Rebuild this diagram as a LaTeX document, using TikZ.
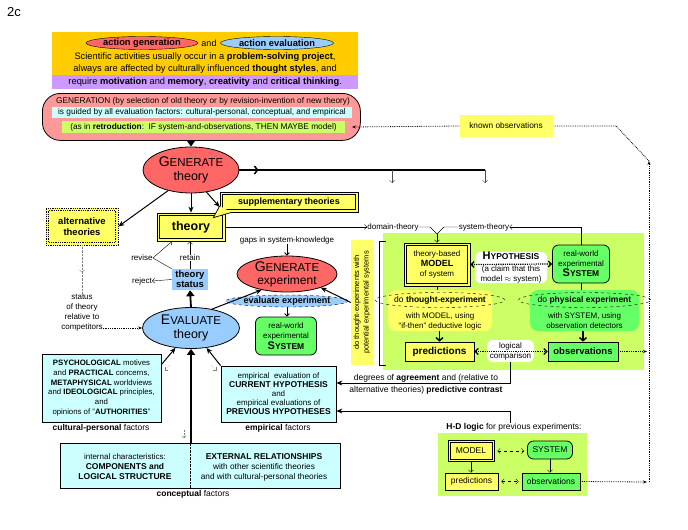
\documentclass[tikz,border=0pt]{standalone}
\usepackage{fontspec}
\setmainfont{Liberation Sans}
\usetikzlibrary{shapes.geometric,arrows.meta,decorations.markings}
\definecolor{hdorange}{HTML}{FFCC00}
\definecolor{hdpurple}{HTML}{CC99FF}
\definecolor{hdpink}{HTML}{FF9999}
\definecolor{hdcyan}{HTML}{CCFFFF}
\definecolor{hdlime}{HTML}{CCFF66}
\definecolor{hdred}{HTML}{FF6666}
\definecolor{hdblue}{HTML}{99CCFF}
\definecolor{hdyellow}{HTML}{FFFF66}
\definecolor{hdgreen}{HTML}{66FF66}
\newcommand{\capsword}[2]{{\fontsize{14pt}{14}\selectfont #1}{\fontsize{11.5pt}{14}\selectfont #2}}
\newcommand{\smallcapsword}[2]{{\fontsize{11pt}{11}\selectfont #1}{\fontsize{8.5pt}{11}\selectfont #2}}
\newcommand{\innerframe}[2]{\draw[line width=0.7pt] ([shift={(#2,#2)}]#1.north west) rectangle ([shift={(-#2,-#2)}]#1.south east);}
\tikzset{
  font={\fontsize{8pt}{10}\selectfont}}
\tikzset{
  thinarrow/.style={-{Straight Barb[length=2.5pt,width=5pt]}},
  medarrow/.style={line width=1pt,-{Stealth[length=6pt,width=5pt]}},
  bigarrow/.style={line width=1.8pt,-{Triangle[length=6pt,width=8pt]}},
  hyparrow/.style={line width=1.2pt,densely dotted,{Straight Barb[length=3pt,width=6pt]}-{Straight Barb[length=3pt,width=6pt]}},
  dasharrow/.style={dashed,{Straight Barb[length=2.5pt,width=5pt]}-{Straight Barb[length=2.5pt,width=5pt]}},
  obsarrow/.style={densely dotted,line width=0.8pt,-{Stealth[length=4pt]}},
  feedarrow/.style={densely dotted,gray,-{Straight Barb[length=2pt,width=4pt]}},
  yellowbox/.style={draw,line width=0.7pt,fill=hdyellow},
  plainbox/.style={draw,line width=0.8pt},
  greenbox/.style={draw,line width=0.8pt,fill=hdgreen,rounded corners=6},
  bigellipse/.style={ellipse,draw,line width=0.8pt,align=center,font={\fontsize{12.5pt}{14}\selectfont}}
}
\begin{document}
\begin{tikzpicture}[x=1pt,y=-1pt]
\tikzstyle{every node}+=[inner sep=0pt]
\useasboundingbox (0,0) rectangle (688,530);
\node (title) at (14,12) {\fontsize{13pt}{14}\selectfont 2c};

% banner at the top
\node[fill=hdorange, minimum width=306, minimum height=43, anchor=north west] (banner) at (52,32) {};
\node[fill=hdpurple, minimum width=306, minimum height=14, anchor=north west, font={\fontsize{9.3pt}{10}\selectfont}] (motiv) at (52,75) {require \textbf{motivation} and \textbf{memory}, \textbf{creativity} and \textbf{critical thinking}.};
\node[ellipse, draw, fill=hdred, minimum width=112, minimum height=13, font={\fontsize{9.3pt}{10}\selectfont}] (actgen) at (142,43) {\textbf{action generation}};
\node[font={\fontsize{9pt}{10}\selectfont}] (andword) at (209,43) {and};
\node[ellipse, draw, fill=hdblue, minimum width=113, minimum height=13, font={\fontsize{9.3pt}{10}\selectfont}] (acteval) at (277,43) {\textbf{action evaluation}};
\node[font={\fontsize{9.3pt}{10}\selectfont}] (project) at (205,57) {Scientific activities usually occur in a \textbf{problem-solving project},};
\node[font={\fontsize{9.3pt}{10}\selectfont}] (styles) at (205,69) {always are affected by culturally influenced \textbf{thought styles}, and};

% generation box
\node[plainbox, fill=hdpink, rounded corners=18, minimum width=318, minimum height=47, anchor=north west] (gen) at (42,93) {};
\node[font={\fontsize{8.3pt}{9}\selectfont}] (genline) at (203,101) {GENERATION (by selection of old theory or by revision-invention of new theory)};
\node[fill=hdcyan, minimum width=300, minimum height=11, font={\fontsize{8.3pt}{9}\selectfont}] (guided) at (202,112.5) {is guided by all evaluation factors: cultural-personal, conceptual, and empirical};
\node[fill=hdlime, minimum width=283, minimum height=12, font={\fontsize{8.3pt}{9}\selectfont}] (retro) at (203.5,127) {(as in \textbf{retroduction}:\ \ IF system-and-observations, THEN MAYBE model)};
\coordinate (knownin) at (352,127);

% theory generation
\node[bigellipse, fill=hdred, minimum width=96, minimum height=46] (gentheory) at (191,170) {\capsword{G}{ENERATE}\\theory};
\draw[bigarrow] (gentheory.north |- gen.south) -- (gentheory.north);
\coordinate (stubA) at (392,170);
\coordinate (stubB) at (485,170);
\draw[line width=1.5pt] (gentheory.east) -- (stubB);
\draw[line width=1.5pt, -{Straight Barb[length=3pt,width=8pt]}] (gentheory.east) -- ++(19,0);
\draw[thinarrow, gray!60!black] (stubA) -- ++(0,13);
\draw[thinarrow, gray!60!black] (stubB) -- ++(0,13);

\node[yellowbox, minimum width=68, minimum height=28, font={\fontsize{12.5pt}{14}\selectfont}] (theory) at (191,227) {\textbf{theory}};
\innerframe{theory}{3}
\node[yellowbox, minimum width=138, minimum height=20, font={\fontsize{9pt}{10}\selectfont}] (supp) at (289,202) {\textbf{supplementary theories}};
\innerframe{supp}{3}
\draw[line width=0.7pt, fill=hdyellow] ([yshift=-4]supp.west) -- ([shift={(-12,5)}]theory.north east) -- ([xshift=12]supp.south west);
\draw[medarrow] (gentheory.south) -- (theory.north);
\draw[medarrow] (gentheory.-55) -- ([yshift=-5]supp.west);

\node[draw, densely dotted, line width=0.8pt, fill=hdyellow, minimum width=72, minimum height=37, align=center, font={\fontsize{9.5pt}{11}\selectfont}] (alt) at (82,226.5) {\textbf{alternative}\\\textbf{theories}};
\draw[densely dotted, line width=0.8pt] ([shift={(3,3)}]alt.north west) rectangle ([shift={(-3,-3)}]alt.south east);
\draw[medarrow] (gentheory.222) -- (alt.east);

\node[align=center] (statustext) at (82,313) {status\\of theory\\relative to\\competitors};
\draw[densely dotted, gray, postaction={decorate}, decoration={markings, mark=at position 0.55 with {\arrow{Straight Barb[length=2pt,width=5pt]}}}] (alt.south) -- (statustext.north);

% theory status
\node[fill=hdblue, minimum width=36, minimum height=21, align=center, font={\fontsize{9.5pt}{10}\selectfont}] (status) at (190,279.5) {\textbf{theory}\\\textbf{status}};
\node (retain) at (190,258) {retain};
\node (revise) at (142,258) {revise};
\node (reject) at (142,281) {reject};
\draw (status.north) -- (retain.south);
\draw[thinarrow] (retain.north) -- (retain.north |- theory.south);
\draw (status.north west) -- (revise.east);
\draw[thinarrow] (revise.east) -- ([xshift=-19]theory.south);
\draw[thinarrow] (status.west) -- (reject.east);

\node[bigellipse, fill=hdblue, minimum width=97, minimum height=41] (evaltheory) at (191,328) {\capsword{E}{VALUATE}\\theory};
\draw[bigarrow] (evaltheory.north) -- (status.south);
\draw[obsarrow] (statustext.east |- evaltheory.west) -- (evaltheory.west);

% experiment generation
\node (gaps) at (287,240) {gaps in system-knowledge};
\node[bigellipse, fill=hdred, minimum width=100, minimum height=36, font={\fontsize{12pt}{13}\selectfont}] (genexp) at (287,274) {\capsword{G}{ENERATE}\\experiment};
\node[ellipse, draw, dashed, fill=hdblue, minimum width=110, minimum height=12, font={\fontsize{9pt}{10}\selectfont}] (evalexp) at (287,301) {\textbf{evaluate experiment}};
\node[greenbox, minimum width=61, minimum height=38, align=center, font={\fontsize{8pt}{10.5}\selectfont}] (expsys) at (286,336) {real-world\\experimental\\\textbf{\smallcapsword{S}{YSTEM}}};
\draw[thinarrow, line width=0.8pt] (gaps.south) -- (genexp.north);
\draw[thinarrow, line width=0.8pt] (evalexp.south) -- (evalexp.south |- expsys.north);
\draw[medarrow] (evaltheory.42) -- (genexp.212);

% hypothetico-deductive area
\node[fill=hdlime, minimum width=261, minimum height=137, anchor=north west] (hdarea) at (383,233) {};
\node[fill=hdyellow, rotate=90, minimum width=125, minimum height=22, align=center, font={\fontsize{7.5pt}{9.5}\selectfont}] (thought) at (362,302.5) {do thought-experiments with\\potential experimental systems};
\draw (386,241) -- (379,241) -- (379,365) -- (386,365);
\draw[medarrow] (thought.north) -- (genexp.-22);

\node (domain) at (393,227) {domain-theory};
\node (systh) at (484,227) {system-theory};
\draw[thinarrow] (theory.east) -- (theory.east -| domain.west);
\node[yellowbox, minimum width=66, minimum height=43, align=center] (model) at (437,264.5) {theory-based\\{\fontsize{9pt}{10}\selectfont\textbf{MODEL}}\\of system};
\innerframe{model}{3}
\node[greenbox, minimum width=57, minimum height=38, align=center] (rwsys) at (581,264) {real-world\\experimental\\\textbf{\smallcapsword{S}{YSTEM}}};
\coordinate (merge) at (437,234);
\draw (domain.east) -- (430,227) -- (merge);
\draw (systh.west) -- (444,227) -- (merge);
\draw[thinarrow] (merge) -- (model.north);
\draw[thinarrow] (rwsys.north) |- (systh.east);

\node[fill=white, rounded corners=6, minimum width=72, minimum height=31, align=center] (hypo) at (511,267.5) {\textbf{\smallcapsword{H}{YPOTHESIS}}\\[2pt](a claim that this\\model $\approx$ system)};
\draw[hyparrow] (model.east) -- (rwsys.west);

\node[fill=hdyellow, rounded corners=8, minimum width=104, minimum height=41] (thexp) at (440,310.5) {};
\node[ellipse, draw, dashed, minimum width=103, minimum height=15, font={\fontsize{8.5pt}{10}\selectfont}] (dothexp) at (440,300) {do \textbf{thought-experiment}};
\node[align=center] (thexptext) at (440,321) {with MODEL, using\\“if-then” deductive logic};
\node[fill=hdgreen, rounded corners=8, minimum width=109, minimum height=41] (phexp) at (584.5,310.5) {};
\node[ellipse, draw, dashed, minimum width=108, minimum height=15, font={\fontsize{8.5pt}{10}\selectfont}] (dophexp) at (584.5,300) {do \textbf{physical experiment}};
\node[align=center] (phexptext) at (584.5,321) {with SYSTEM, using\\observation detectors};
\draw (model.south) -- (model.south |- thexp.north);
\draw (rwsys.south) -- (rwsys.south |- phexp.north);

\node[plainbox, fill=hdyellow, minimum width=69, minimum height=19, font={\fontsize{10pt}{11}\selectfont}] (pred) at (439.5,351.5) {\textbf{predictions}};
\node[plainbox, fill=hdgreen, minimum width=70, minimum height=19, font={\fontsize{9.5pt}{11}\selectfont}] (obs) at (583,351.5) {\textbf{observations}};
\draw[line width=1.5pt, -{Straight Barb[length=3pt,width=7pt]}] (thexp.south -| pred.north) -- (pred.north);
\draw[line width=1.5pt, -{Straight Barb[length=3pt,width=7pt]}] (phexp.south -| obs.north) -- (obs.north);
\node[fill=white, rounded corners=6, minimum width=47, minimum height=22, align=center] (logcomp) at (510.5,351) {logical\\comparison};
\draw[hyparrow] (pred.east) -- (obs.west);

% empirical evaluation
\node[plainbox, fill=hdcyan, minimum width=115, minimum height=56, align=center, font={\fontsize{8pt}{9}\selectfont}] (emp) at (278.5,394) {empirical\ \ evaluation of\\{\fontsize{8.5pt}{9}\selectfont\textbf{CURRENT HYPOTHESIS}}\\and\\empirical evaluations of\\{\fontsize{8.5pt}{9}\selectfont\textbf{PREVIOUS HYPOTHESES}}};
\node[font={\fontsize{8.5pt}{10}\selectfont}] (emplab) at (278,428) {\textbf{empirical} factors};
\coordinate (agreey) at (0,383);
\coordinate (prevy) at (0,411);
\draw[medarrow, line width=0.8pt] (logcomp.south) |- (emp.east |- agreey);
\node[font={\fontsize{8.5pt}{10}\selectfont}] (agreetext) at (426,378) {degrees of \textbf{agreement} and (relative to};
\node[font={\fontsize{8.5pt}{10}\selectfont}] (contrast) at (426,390) {alternative theories) \textbf{predictive contrast}};

% H-D logic for earlier experiments
\node[fill=hdlime, minimum width=149, minimum height=63, anchor=north west] (hdback) at (438,433) {};
\node[font={\fontsize{8.5pt}{10}\selectfont}] (hdtitle) at (514,427) {\textbf{H-D logic} for previous experiments:};
\draw[medarrow, line width=0.8pt] (hdtitle.north -| logcomp.south) |- (emp.east |- prevy);
\node[yellowbox, minimum width=46, minimum height=21, font={\fontsize{8.5pt}{10}\selectfont}] (hdmodel) at (471,451) {MODEL};
\innerframe{hdmodel}{2.5}
\node[greenbox, minimum width=45, minimum height=18, font={\fontsize{8.5pt}{10}\selectfont}] (hdsys) at (550,450) {SYSTEM};
\node[plainbox, fill=hdyellow, minimum width=53, minimum height=17, font={\fontsize{8.5pt}{10}\selectfont}] (hdpred) at (471.5,481.5) {predictions};
\node[plainbox, fill=hdgreen, minimum width=58, minimum height=17, font={\fontsize{8.5pt}{10}\selectfont}] (hdobs) at (551,481.5) {observations};
\draw[dasharrow] ([xshift=3]hdmodel.east) -- ([xshift=-3]hdsys.west |- hdmodel.east);
\draw[dasharrow] ([xshift=3]hdpred.east) -- ([xshift=-3]hdobs.west);
\draw[thinarrow] (hdmodel.south) -- (hdpred.north -| hdmodel.south);
\draw[thinarrow] (hdsys.south) -- (hdobs.north -| hdsys.south);

% observations loop back
\node[fill=hdyellow, minimum width=93, minimum height=22, font={\fontsize{8.3pt}{10}\selectfont}] (knownobs) at (506,126) {known observations};
\coordinate (obsright) at (647,351.5);
\coordinate (vtop) at (649,161);
\coordinate (vbot) at (649,482);
\coordinate (bend) at (616,126);
\draw[obsarrow] (obs.east) -- (obsright);
\draw[obsarrow] (hdobs.east) -- (vbot -| obsright);
\draw[obsarrow] (vbot) -- (vtop);
\draw[densely dotted, line width=0.8pt] (vtop) -- (bend) -- (knownobs.east);
\draw[obsarrow] (knownobs.west) -- (knownin);

% factors
\node[plainbox, fill=hdcyan, minimum width=119, minimum height=68, align=center, font={\fontsize{7.8pt}{9.8}\selectfont}] (cult) at (101.5,388) {\textbf{PSYCHOLOGICAL} motives\\and \textbf{PRACTICAL} concerns,\\\textbf{METAPHYSICAL} worldviews\\and \textbf{IDEOLOGICAL} principles,\\and\\opinions of "\textbf{AUTHORITIES}"};
\node[font={\fontsize{8.5pt}{10}\selectfont}] (cultlab) at (101,428) {\textbf{cultural-personal} factors};
\draw[medarrow] ([yshift=-11]cult.north east) -- (evaltheory.232);
\draw[medarrow] (emp.north west) -- (evaltheory.308);

\node[plainbox, fill=hdcyan, minimum width=280, minimum height=45] (concept) at (200,465.5) {};
\draw[densely dotted] ([xshift=-10]concept.north) -- ([xshift=-10]concept.south);
\node[align=center, font={\fontsize{8pt}{10}\selectfont}] (intern) at (125,467) {internal characteristics:\\{\fontsize{8.5pt}{10}\selectfont\textbf{COMPONENTS and}}\\{\fontsize{8.5pt}{10}\selectfont\textbf{LOGICAL STRUCTURE}}};
\node[align=center, font={\fontsize{8.3pt}{10}\selectfont}] (extern) at (264,467) {{\fontsize{8.5pt}{10}\selectfont\textbf{EXTERNAL RELATIONSHIPS}}\\with other scientific theories\\and with cultural-personal theories};
\node[font={\fontsize{8.5pt}{10}\selectfont}] (conclab) at (193,494) {\textbf{conceptual} factors};
\draw[bigarrow] (evaltheory.south |- concept.north) -- (evaltheory.south);

% small dotted feedback marks
\coordinate (feedA) at (170,365);
\coordinate (feedB) at (211,365);
\coordinate (feedC) at (184,430);
\draw[feedarrow] (feedA) -- ++(-5,5);
\draw[feedarrow] (feedB) -- ++(5,5);
\draw[feedarrow] (feedC) -- ++(0,8);
\end{tikzpicture}
\end{document}
